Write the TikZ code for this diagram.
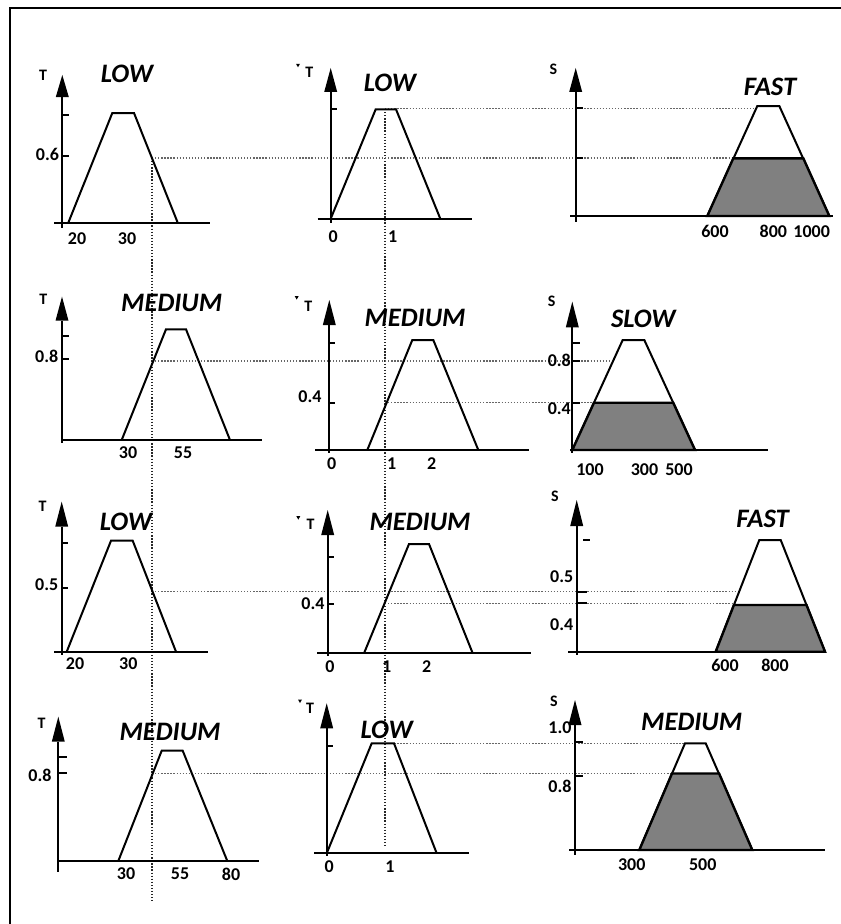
\documentclass[tikz,border=0pt]{standalone}
\usepackage{fontspec}
\setmainfont{Carlito}
\begin{document}
\begin{tikzpicture}[x=0.75pt,y=-0.75pt,
  ax/.style={line width=1.5pt},
  tk/.style={line width=1.5pt},
  trap/.style={line width=1.5pt,line join=miter},
  cutfill/.style={fill=black!50,draw=black,line width=1.8pt,line join=miter},
  dotv/.style={draw=black!85,line width=1.3pt,dash pattern=on 1pt off 1.3pt},
  doth/.style={draw=black!60,line width=1.1pt,dash pattern=on 1pt off 1.3pt},
  ttl/.style={inner sep=0pt,font=\fontsize{20}{24}\selectfont\bfseries\itshape},
  num/.style={inner sep=0pt,font=\fontsize{13.5}{16}\selectfont\bfseries},
  axl/.style={inner sep=0pt,font=\fontsize{12}{14}\selectfont\bfseries}]
\useasboundingbox (0,0) rectangle (841,924);
\newcommand\myarrow[3]{\fill (#1,#2) -- (#1+6.5,#3) -- (#1-6.5,#3) -- cycle;}
\newcommand\mytick[2]{\fill (#1-2,#2-2.2) -- (#1+2,#2-2.2) -- (#1,#2+1.3) -- cycle;}
% frame
\draw[line width=1pt] (10,924) -- (10,8) -- (841,8);

% ---------- dotted guide lines ----------
\draw[dotv] (151.7,158) -- (151.7,903);
\draw[dotv] (385,109) -- (385,847);
\draw[doth] (152,158) -- (735,158);
\draw[doth] (385,108.3) -- (757,108.3);
\draw[doth] (152,361) -- (611,361);
\draw[doth] (385,402.7) -- (597,402.7);
\draw[doth] (152,591.7) -- (736,591.7);
\draw[doth] (385,603.3) -- (734,603.3);
\draw[doth] (152,773.5) -- (671,773.5);
\draw[doth] (385,743.3) -- (685,743.3);

% ================= ROW 1 =================
% r1c1
\myarrow{62.3}{75}{97}
\draw[ax] (62.3,97) -- (62.3,228);
\draw[ax] (54,222.7) -- (210,222.7);
\draw[tk] (62.3,115) -- (69,115);
\draw[tk] (62.3,155.7) -- (69,155.7);
\draw[trap] (68.3,222.7) -- (112.3,113) -- (134,113) -- (177.7,222.7);
\node[axl] (a11) at (43,75) {T};
\node[ttl] (h11) at (127,74) {LOW};
\node[num] (y11) at (47.5,154) {0.6};
\node[num] (x11a) at (77,239) {20};
\node[num] (x11b) at (127,239) {30};
% r1c2
\myarrow{330.7}{68}{92}
\draw[ax] (330.7,92) -- (330.7,222.7);
\draw[ax] (317.7,218.7) -- (472.3,218.7);
\draw[tk] (330.7,109.3) -- (336.7,109.3);
\draw[trap] (330.7,218.7) -- (375.7,109.3) -- (396,109.3) -- (440.3,218.7);
\mytick{298}{66}
\node[axl] (a12) at (309.3,72.7) {T};
\node[ttl] (h12) at (390,82.7) {LOW};
\node[num] (x12a) at (333.3,236.7) {0};
\node[num] (x12b) at (392.7,236.7) {1};
% r1c3
\myarrow{575.7}{68}{92}
\draw[ax] (575.7,92) -- (575.7,221.7);
\draw[ax] (570,216) -- (833,216);
\draw[tk] (575.7,107.7) -- (583.3,107.7);
\draw[tk] (575.7,158.3) -- (583.3,158.3);
\draw[trap] (707.3,216) -- (757.3,106) -- (779.3,106) -- (829.3,216);
\draw[cutfill] (707.3,216) -- (733.3,158.3) -- (803.3,158.3) -- (829.3,216) -- cycle;
\node[axl] (a13) at (553.3,69) {S};
\node[ttl] (h13) at (770,87.3) {FAST};
\node[num] (x13a) at (715,231.7) {600};
\node[num] (x13b) at (773.3,231.7) {800};
\node[num] (x13c) at (811.7,231.7) {1000};

% ================= ROW 2 =================
% r2c1
\myarrow{62}{296.7}{320.7}
\draw[ax] (62,320.7) -- (62,443);
\draw[ax] (62,440) -- (262.3,440);
\draw[tk] (62,336) -- (69,336);
\draw[tk] (62,358.7) -- (69,358.7);
\draw[trap] (121.7,440) -- (166,329.3) -- (186,329.3) -- (230,440);
\node[axl] (a21) at (43.3,299.3) {T};
\node[ttl] (h21) at (171.7,303.3) {MEDIUM};
\node[num] (y21) at (46.7,356) {0.8};
\node[num] (x21a) at (128,453) {30};
\node[num] (x21b) at (183,453) {55};
% r2c2
\myarrow{329.3}{300}{325}
\draw[ax] (329.3,325) -- (329.3,453);
\draw[ax] (315,450) -- (529.3,450);
\draw[tk] (329.3,342.7) -- (335.3,342.7);
\draw[tk] (329.3,402.7) -- (335.3,402.7);
\draw[trap] (367.3,450) -- (412.3,340) -- (433.3,340) -- (478.3,450);
\mytick{296.7}{298.3}
\node[axl] (a22) at (308.3,306.7) {T};
\node[ttl] (h22) at (415,318.3) {MEDIUM};
\node[num] (y22) at (310,396.7) {0.4};
\node[num] (x22a) at (331.7,464) {0};
\node[num] (x22b) at (391.7,464) {1};
\node[num] (x22c) at (431.7,464) {2};
% r2c3
\myarrow{572.3}{301.7}{327.3}
\draw[ax] (572.3,327.3) -- (572.3,453);
\draw[ax] (570,450) -- (768,450);
\draw[tk] (572.3,342.7) -- (580,342.7);
\draw[tk] (572.3,361) -- (580,361);
\draw[tk] (572.3,402.7) -- (580,402.7);
\draw[trap] (572.3,450) -- (622.7,340) -- (644.3,340) -- (695,450);
\draw[cutfill] (572.3,450) -- (594,402.7) -- (673.2,402.7) -- (695,450) -- cycle;
\node[axl] (a23) at (551.7,301.7) {S};
\node[ttl] (h23) at (643.3,319) {SLOW};
\node[num] (y23a) at (559.3,360) {0.8};
\node[num] (y23b) at (559.3,408.3) {0.4};
\node[num] (x23a) at (590,470) {100};
\node[num] (x23b) at (644.5,470) {300};
\node[num] (x23c) at (679,470) {500};

% ================= ROW 3 =================
% r3c1
\myarrow{61.7}{501.7}{526.7}
\draw[ax] (61.7,526.7) -- (61.7,655);
\draw[ax] (54,651.7) -- (208.3,651.7);
\draw[tk] (61.7,543.3) -- (68.3,543.3);
\draw[tk] (61.7,588.3) -- (68.3,588.3);
\draw[trap] (66.7,651.7) -- (111,540.7) -- (132.7,540.7) -- (176,651.7);
\node[axl] (a31) at (42.7,506.7) {T};
\node[ttl] (h31) at (126,521.7) {LOW};
\node[num] (y31) at (46.7,584.3) {0.5};
\node[num] (x31a) at (75,663.3) {20};
\node[num] (x31b) at (128.3,663.3) {30};
% r3c2
\myarrow{327.7}{510}{535}
\draw[ax] (327.7,535) -- (327.7,656);
\draw[ax] (317.3,653.3) -- (530.7,653.3);
\draw[tk] (327.7,556.7) -- (334,556.7);
\draw[tk] (327.7,604.3) -- (334,604.3);
\draw[trap] (364,653.3) -- (409,544) -- (429,544) -- (472.7,653.3);
\mytick{298.3}{518.3}
\node[axl] (a32) at (310.7,524) {T};
\node[ttl] (h32) at (420,521.7) {MEDIUM};
\node[num] (y32) at (313,604) {0.4};
\node[num] (x32a) at (330,667) {0};
\node[num] (x32b) at (386.7,667) {1};
\node[num] (x32c) at (426.7,667) {2};
% r3c3
\myarrow{576.7}{500}{526}
\draw[ax] (576.7,526) -- (576.7,655);
\draw[ax] (568.3,651.7) -- (825,651.7);
\draw[tk] (583.3,540) -- (590,540);
\draw[tk] (576.7,591.7) -- (586.7,591.7);
\draw[tk] (576.7,603.3) -- (586.7,603.3);
\draw[trap] (715.7,651.7) -- (759.3,540) -- (780.7,540) -- (825,651.7);
\draw[cutfill] (715.7,651.7) -- (733.9,605) -- (806.5,605) -- (825,651.7) -- cycle;
\node[axl] (a33) at (555,496.7) {S};
\node[ttl] (h33) at (762.7,519) {FAST};
\node[num] (y33a) at (561.7,576.7) {0.5};
\node[num] (y33b) at (561.7,625) {0.4};
\node[num] (x33a) at (725,665) {600};
\node[num] (x33b) at (775,665) {800};

% ================= ROW 4 =================
% r4c1
\myarrow{58.3}{716.7}{741.7}
\draw[ax] (58.3,741.7) -- (58.3,871.7);
\draw[ax] (58.3,861) -- (259.3,861);
\draw[tk] (58.3,756.7) -- (66.7,756.7);
\draw[tk] (58.3,773.3) -- (66.7,773.3);
\draw[trap] (118.3,861) -- (161.7,750.7) -- (182.7,750.7) -- (227.3,861);
\node[axl] (a41) at (41.7,723.3) {T};
\node[ttl] (h41) at (170,731.7) {MEDIUM};
\node[num] (y41) at (40,775.7) {0.8};
\node[num] (x41a) at (126,874) {30};
\node[num] (x41b) at (180,874) {55};
\node[num] (x41c) at (231,874) {80};
% r4c2
\myarrow{326.7}{703.3}{728.3}
\draw[ax] (326.7,728.3) -- (326.7,856);
\draw[ax] (314.3,853.3) -- (469.3,853.3);
\draw[tk] (326.7,746) -- (333,746);
\draw[trap] (326.7,853.3) -- (371.7,743.3) -- (394,743.3) -- (436.7,853.3);
\mytick{300}{701.7}
\node[axl] (a42) at (310,708.3) {T};
\node[ttl] (h42) at (386.7,730) {LOW};
\node[num] (x42a) at (329.3,866.7) {0};
\node[num] (x42b) at (390,866.7) {1};
% r4c3
\myarrow{575}{700}{725}
\draw[ax] (575,725) -- (575,855);
\draw[ax] (569.3,850) -- (825,850);
\draw[tk] (575,741.7) -- (583.3,741.7);
\draw[tk] (575,776) -- (583.3,776);
\draw[trap] (639.3,850) -- (685,743.3) -- (705.7,743.3) -- (752.3,850);
\draw[cutfill] (639.3,850) -- (672,773.5) -- (719.1,773.5) -- (752.3,850) -- cycle;
\node[axl] (a43) at (554,701.7) {S};
\node[num] (y43a) at (560,727.3) {1.0};
\node[num] (y43b) at (560,786.7) {0.8};
\node[ttl] (h43) at (691.7,721.7) {MEDIUM};
\node[num] (x43a) at (631.7,865) {300};
\node[num] (x43b) at (702.7,865) {500};
\end{tikzpicture}
\end{document}
